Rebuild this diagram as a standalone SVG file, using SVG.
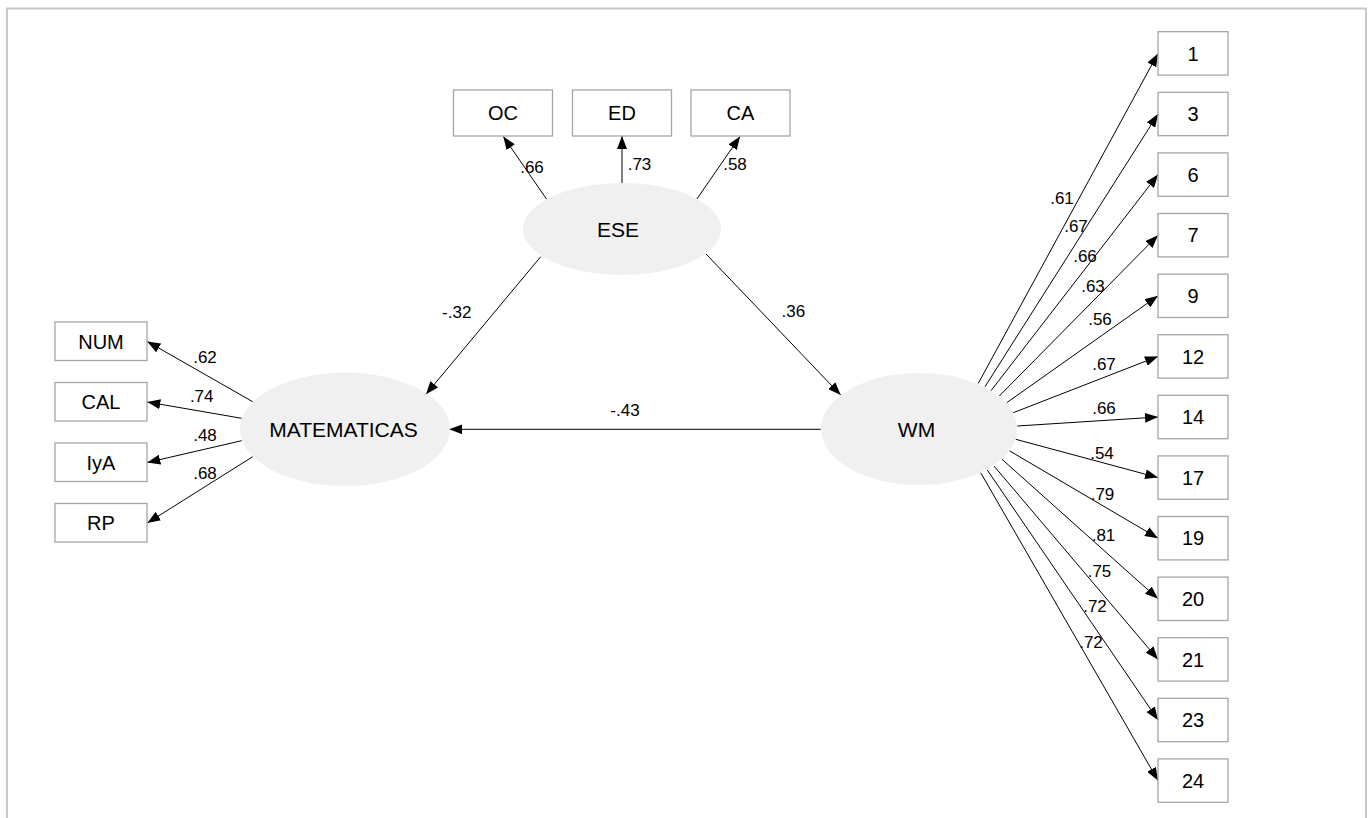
<svg xmlns="http://www.w3.org/2000/svg" width="1369" height="818" viewBox="0 0 1369 818">
<style>
.box{fill:#fff;stroke:#a6a6a6;stroke-width:1.3}
.lat{fill:#f0f0f0;stroke:none}
.lbl{font-family:"Liberation Sans",Arial,sans-serif;font-size:20px;fill:#000;text-anchor:middle}
.lat-lbl{font-family:"Liberation Sans",Arial,sans-serif;font-size:21px;fill:#000;text-anchor:middle}
.coef{font-family:"Liberation Sans",Arial,sans-serif;font-size:17px;fill:#000;text-anchor:middle}
.edge{stroke:#000;stroke-width:1;fill:none;marker-end:url(#ah)}
</style>
<defs>
<marker id="ah" markerUnits="userSpaceOnUse" markerWidth="13" markerHeight="10" refX="13" refY="5" orient="auto">
<path d="M0,0 L13,5 L0,10 Z" fill="#000"/>
</marker>
</defs>
<rect width="1369" height="818" fill="#fff"/>
<path d="M7,818 V8.5 H1366 V818" fill="none" stroke="#c8c8c8" stroke-width="2"/>

<g id="connectors">
<line class="edge" x1="546.7" y1="199.3" x2="503.3" y2="136.5"/>
<line class="edge" x1="622" y1="183.3" x2="622" y2="136"/>
<line class="edge" x1="696.7" y1="199.3" x2="740" y2="136.5"/>
<line class="edge" x1="540.7" y1="256.7" x2="426" y2="394.3"/>
<line class="edge" x1="706" y1="254" x2="840.7" y2="395"/>
<line class="edge" x1="820.7" y1="429.3" x2="449.3" y2="429.3"/>
<line class="edge" x1="252.7" y1="401.7" x2="147.3" y2="341.5"/>
<line class="edge" x1="241.7" y1="418.3" x2="147.3" y2="402"/>
<line class="edge" x1="241.7" y1="440.7" x2="147.3" y2="462.5"/>
<line class="edge" x1="252.7" y1="456.7" x2="147.3" y2="523"/>
<line class="edge" x1="978.3" y1="383.3" x2="1158" y2="53.4"/>
<line class="edge" x1="985" y1="386.7" x2="1158" y2="114"/>
<line class="edge" x1="991" y1="390.7" x2="1158" y2="174.6"/>
<line class="edge" x1="999.3" y1="396" x2="1158" y2="235.2"/>
<line class="edge" x1="1006.7" y1="402.7" x2="1158" y2="295.8"/>
<line class="edge" x1="1013.3" y1="412.7" x2="1158" y2="356.4"/>
<line class="edge" x1="1017.3" y1="426" x2="1158" y2="417"/>
<line class="edge" x1="1015.7" y1="439.3" x2="1158" y2="477.6"/>
<line class="edge" x1="1009.3" y1="450.7" x2="1158" y2="538.2"/>
<line class="edge" x1="1001.7" y1="459" x2="1158" y2="598.8"/>
<line class="edge" x1="994" y1="466" x2="1158" y2="659.4"/>
<line class="edge" x1="987.3" y1="470" x2="1158" y2="720"/>
<line class="edge" x1="980.7" y1="472.7" x2="1158" y2="780.6"/>
</g>

<g id="coefficients">
<text class="coef" x="532" y="172.5">.66</text>
<text class="coef" x="639.5" y="170">.73</text>
<text class="coef" x="735" y="170">.58</text>
<text class="coef" x="456.7" y="317.5">-.32</text>
<text class="coef" x="793.3" y="316.5">.36</text>
<text class="coef" x="625" y="416">-.43</text>
<text class="coef" x="205" y="363">.62</text>
<text class="coef" x="201.7" y="401.5">.74</text>
<text class="coef" x="205" y="441">.48</text>
<text class="coef" x="205" y="479">.68</text>
<text class="coef" x="1062" y="204">.61</text>
<text class="coef" x="1076" y="231.5">.67</text>
<text class="coef" x="1085" y="262">.66</text>
<text class="coef" x="1093" y="292">.63</text>
<text class="coef" x="1100" y="324.5">.56</text>
<text class="coef" x="1104" y="370">.67</text>
<text class="coef" x="1104" y="414">.66</text>
<text class="coef" x="1102" y="459">.54</text>
<text class="coef" x="1102.5" y="500">.79</text>
<text class="coef" x="1103.5" y="541">.81</text>
<text class="coef" x="1099.5" y="576.5">.75</text>
<text class="coef" x="1095" y="611.5">.72</text>
<text class="coef" x="1091" y="647.5">.72</text>
</g>

<g id="ESE"><ellipse class="lat" cx="622" cy="229" rx="99" ry="46"/><text class="lat-lbl" x="618" y="236.5">ESE</text></g>
<g id="MATEMATICAS"><ellipse class="lat" cx="345" cy="429.3" rx="105" ry="56.7"/><text class="lat-lbl" x="343.5" y="437">MATEMATICAS</text></g>
<g id="WM"><ellipse class="lat" cx="919" cy="429" rx="98" ry="56"/><text class="lat-lbl" x="916.5" y="436.5">WM</text></g>

<g id="OC"><rect class="box" x="453.5" y="90" width="99" height="46"/><text class="lbl" x="503" y="120">OC</text></g>
<g id="ED"><rect class="box" x="572.5" y="90" width="99" height="46"/><text class="lbl" x="622" y="120">ED</text></g>
<g id="CA"><rect class="box" x="691" y="90" width="99" height="46"/><text class="lbl" x="740.5" y="120">CA</text></g>

<g id="NUM"><rect class="box" x="55" y="322" width="92" height="38.5"/><text class="lbl" x="101" y="348.5">NUM</text></g>
<g id="CAL"><rect class="box" x="55" y="382.5" width="92" height="38.5"/><text class="lbl" x="101" y="409">CAL</text></g>
<g id="IyA"><rect class="box" x="55" y="443" width="92" height="38.5"/><text class="lbl" x="101" y="469.5">IyA</text></g>
<g id="RP"><rect class="box" x="55" y="503.5" width="92" height="38.5"/><text class="lbl" x="101" y="530">RP</text></g>

<g id="i1"><rect class="box" x="1158" y="31.7" width="70" height="43.4"/><text class="lbl" x="1193" y="60.5">1</text></g>
<g id="i3"><rect class="box" x="1158" y="92.3" width="70" height="43.4"/><text class="lbl" x="1193" y="121">3</text></g>
<g id="i6"><rect class="box" x="1158" y="152.9" width="70" height="43.4"/><text class="lbl" x="1193" y="181.7">6</text></g>
<g id="i7"><rect class="box" x="1158" y="213.5" width="70" height="43.4"/><text class="lbl" x="1193" y="242.3">7</text></g>
<g id="i9"><rect class="box" x="1158" y="274.1" width="70" height="43.4"/><text class="lbl" x="1193" y="302.9">9</text></g>
<g id="i12"><rect class="box" x="1158" y="334.7" width="70" height="43.4"/><text class="lbl" x="1193" y="363.5">12</text></g>
<g id="i14"><rect class="box" x="1158" y="395.3" width="70" height="43.4"/><text class="lbl" x="1193" y="424.1">14</text></g>
<g id="i17"><rect class="box" x="1158" y="455.9" width="70" height="43.4"/><text class="lbl" x="1193" y="484.7">17</text></g>
<g id="i19"><rect class="box" x="1158" y="516.5" width="70" height="43.4"/><text class="lbl" x="1193" y="545.3">19</text></g>
<g id="i20"><rect class="box" x="1158" y="577.1" width="70" height="43.4"/><text class="lbl" x="1193" y="605.9">20</text></g>
<g id="i21"><rect class="box" x="1158" y="637.7" width="70" height="43.4"/><text class="lbl" x="1193" y="666.5">21</text></g>
<g id="i23"><rect class="box" x="1158" y="698.3" width="70" height="43.4"/><text class="lbl" x="1193" y="727.1">23</text></g>
<g id="i24"><rect class="box" x="1158" y="758.9" width="70" height="43.4"/><text class="lbl" x="1193" y="787.7">24</text></g>
</svg>
